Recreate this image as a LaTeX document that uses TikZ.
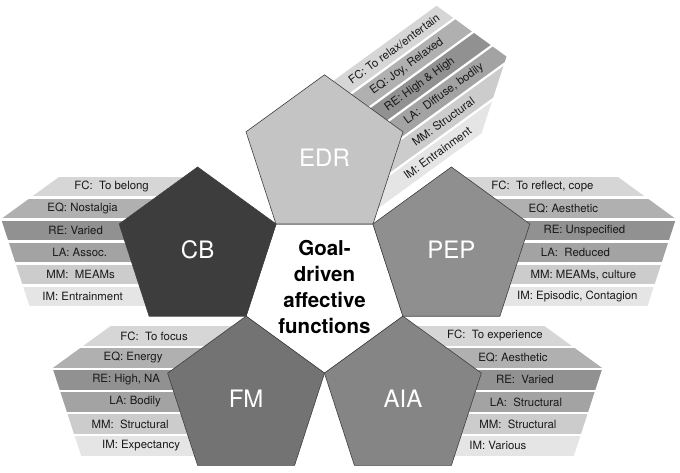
\documentclass[tikz,border=0pt]{standalone}
\usepackage{fontspec}
\setmainfont{TeX Gyre Heros}
\usepackage{tikz}
\usetikzlibrary{shapes,shapes.geometric,calc,positioning}
\pgfdeclarelayer{bg}
\pgfsetlayers{bg,main}
\tikzset{
  pent/.style={regular polygon,regular polygon sides=5,minimum size=165pt,
    inner sep=0pt,outer sep=0pt,draw=black!75,line width=.6pt,text=white,
    font=\fontsize{24}{24}\selectfont},
  tag/.style={font=\fontsize{11.4}{11.4}\selectfont,inner sep=0pt,text=black!90},
  b0/.style={fill=black!16},
  b1/.style={fill=black!31},
  b2/.style={fill=black!43},
  b3/.style={fill=black!36},
  b4/.style={fill=black!20},
  b5/.style={fill=black!10}
}

\begin{document}
\begin{tikzpicture}[x=1pt,y=1pt]
\useasboundingbox (0,0) rectangle (680,472);
\coordinate (mid) at (324.5,181.3);

% the five pentagons round the middle one
\node[pent,shape border rotate=180,fill=white] (hub) at (mid) {};
\node[pent,fill=black!23] (edr) at ([shift={(90:133.4)}]mid) {EDR};
\node[pent,fill=black!76] (cb) at ([shift={(162:133.4)}]mid) {CB};
\node[pent,fill=black!44] (pep) at ([shift={(18:133.4)}]mid) {PEP};
\node[pent,fill=black!55] (fm) at ([shift={(234:133.4)}]mid) {FM};
\node[pent,fill=black!48] (aia) at ([shift={(306:133.4)}]mid) {AIA};
\node[font=\bfseries\fontsize{20.5}{26}\selectfont,align=center,inner sep=0pt]
  (goal) at ([yshift=4]mid) {Goal-\\driven\\affective\\functions};

% stripes behind the pentagons
\begin{pgfonlayer}{bg}
\begin{scope}
  \clip ([shift={(-118,5)}]cb.corner 1) -- ([shift={(-118,5)}]cb.corner 2)
    -- ([shift={(-118,5)}]cb.corner 3) -- (cb.corner 3) -- (cb.corner 1) -- cycle;
  \begin{scope}[shift={(cb.center)}]
    \foreach \i in {0,...,5}
      \fill[b\i] (-260,{72.5-22*\i}) rectangle (0,{53-22*\i});
  \end{scope}
\end{scope}
\begin{scope}
  \clip ([shift={(-115,5)}]fm.corner 1) -- ([shift={(-115,5)}]fm.corner 2)
    -- ([shift={(-115,5)}]fm.corner 3) -- (fm.corner 3) -- (fm.corner 1) -- cycle;
  \begin{scope}[shift={(fm.center)}]
    \foreach \i in {0,...,5}
      \fill[b\i] (-260,{72.5-22*\i}) rectangle (0,{53-22*\i});
  \end{scope}
\end{scope}
\begin{scope}
  \clip ([shift={(146,5)}]pep.corner 1) -- ([shift={(146,5)}]pep.corner 5)
    -- ([shift={(146,5)}]pep.corner 4) -- (pep.corner 4) -- (pep.corner 1) -- cycle;
  \begin{scope}[shift={(pep.center)}]
    \foreach \i in {0,...,5}
      \fill[b\i] (0,{72.5-22*\i}) rectangle (260,{53-22*\i});
  \end{scope}
\end{scope}
\begin{scope}
  \clip ([shift={(121,5)}]aia.corner 1) -- ([shift={(121,5)}]aia.corner 5)
    -- ([shift={(121,5)}]aia.corner 4) -- (aia.corner 4) -- (aia.corner 1) -- cycle;
  \begin{scope}[shift={(aia.center)}]
    \foreach \i in {0,...,5}
      \fill[b\i] (0,{72.5-22*\i}) rectangle (260,{53-22*\i});
  \end{scope}
\end{scope}
\begin{scope}
  \clip ([shift={(36:128)}]edr.corner 2) -- ([shift={(36:128)}]edr.corner 1)
    -- ([shift={(36:128)}]edr.corner 5) -- ([shift={(36:128)}]edr.corner 4)
    -- (edr.corner 4) -- (edr.corner 2) -- cycle;
  \begin{scope}[shift={(edr.center)},rotate=36]
    \foreach \i in {0,...,5}
      \fill[b\i] (0,{56.7-22*\i}) rectangle (260,{37.2-22*\i});
  \end{scope}
\end{scope}
\end{pgfonlayer}

% stripe texts
\foreach \i/\tx/\lbl in {0/-86/{FC:\ \ To belong},1/-115/{EQ: Nostalgia},
    2/-122/{RE: Varied},3/-118/{LA: Assoc.},4/-117/{MM:\ \ MEAMs},
    5/-115/{IM: Entrainment}}
  \node[tag] (cb-\i) at ([shift={(\tx,{62.75-22*\i})}]cb.center) {\lbl};
\foreach \i/\tx/\lbl in {0/91/{FC:\ \ To reflect, cope},1/112/{EQ: Aesthetic},
    2/133/{RE: Unspecified},3/124/{LA:\ \ Reduced},4/132/{MM: MEAMs, culture},
    5/126/{IM: Episodic, Contagion}}
  \node[tag] (pep-\i) at ([shift={(\tx,{62.75-22*\i})}]pep.center) {\lbl};
\foreach \i/\tx/\lbl in {0/-92/{FC:\ \ To focus},1/-113/{EQ: Energy},
    2/-120/{RE: High, NA},3/-111/{LA: Bodily},4/-116/{MM:\ \ Structural},
    5/-105/{IM: Expectancy}}
  \node[tag] (fm-\i) at ([shift={(\tx,{62.75-22*\i})}]fm.center) {\lbl};
\foreach \i/\tx/\lbl in {0/92/{FC:\ \ To experience},1/110/{EQ: Aesthetic},
    2/122/{RE:\ \ Varied},3/123/{LA:\ \ Structural},4/115/{MM:\ \ Structural},
    5/95/{IM: Various}}
  \node[tag] (aia-\i) at ([shift={(\tx,{62.75-22*\i})}]aia.center) {\lbl};
\begin{scope}[shift={(edr.center)},rotate=36]
  \foreach \i/\tx/\lbl in {0/120/{FC: To relax/entertain},1/120/{EQ: Joy, Relaxed},
      2/120/{RE: High \& High},3/134/{LA:\ \ Diffuse, bodily},4/117/{MM: Structural},
      5/94/{IM: Entrainment}}
    \node[tag,rotate=36] (edr-\i) at (\tx,{46.95-22*\i}) {\lbl};
\end{scope}
\end{tikzpicture}
\end{document}
